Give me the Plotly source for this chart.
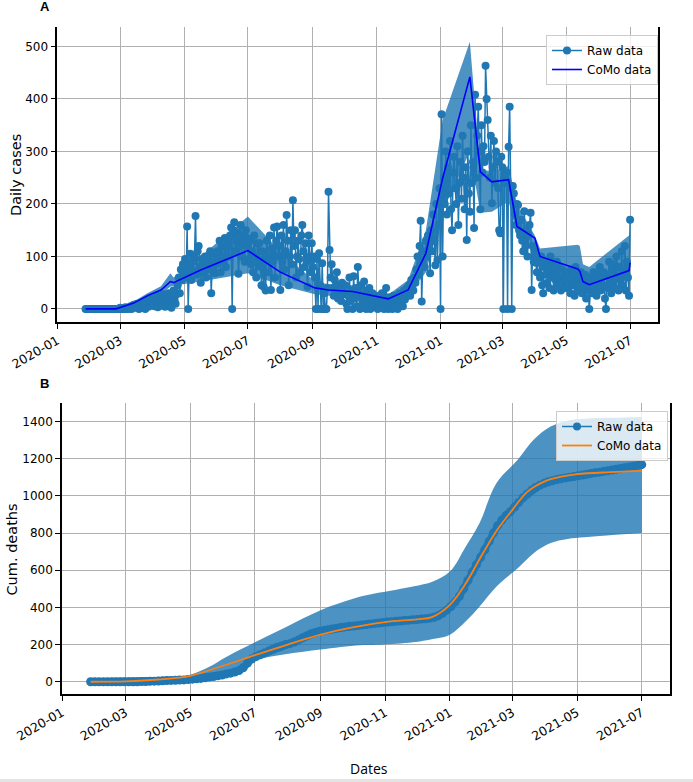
import plotly.graph_objects as go
import pandas as pd

# ---------------- Panel A: daily cases (raw, one value per day from 2020-01-28) ----------------
cases_2020_01 = [0, 0, 0, 0]
cases_2020_02 = [0, 0, 0, 0, 0, 0, 0, 0, 0, 0, 0, 0, 0, 0, 0, 0, 0, 0, 0, 0, 0, 0, 0, 0, 0, 0, 0, 0, 0]
cases_2020_03 = [2, 0, 0, 1, 0, 3, 0, 2, 0, 1, 5, 0, 3, 8, 2, 4, 10, 6, 0, 3, 12, 5, 8, 2, 0, 15, 10, 4, 18, 6, 12]
cases_2020_04 = [8, 20, 5, 14, 25, 3, 18, 10, 22, 6, 28, 15, 4, 20, 12, 30, 8, 24, 2, 16, 35, 18, 10, 28, 45, 60, 30, 75, 55, 85]
cases_2020_05 = [70, 95, 60, 157, 0, 85, 105, 55, 90, 72, 100, 177, 65, 110, 120, 80, 50, 95, 88, 70, 100, 60, 85, 98, 75, 110, 30, 90, 80, 105, 68]
cases_2020_06 = [85, 110, 95, 130, 70, 120, 100, 90, 135, 80, 115, 125, 100, 140, 155, 0, 150, 165, 110, 130, 145, 67, 120, 160, 100, 140, 125, 90, 150, 135]
cases_2020_07 = [120, 95, 130, 85, 110, 70, 140, 100, 60, 125, 90, 125, 80, 45, 110, 42, 95, 35, 130, 100, 70, 140, 36, 115, 90, 155, 60, 130, 157, 100, 120]
cases_2020_08 = [36, 140, 90, 160, 75, 110, 179, 130, 45, 100, 150, 85, 207, 120, 150, 60, 100, 130, 95, 70, 140, 160, 110, 80, 125, 90, 42, 140, 100, 70, 125]
cases_2020_09 = [80, 100, 60, 0, 95, 0, 106, 45, 0, 87, 0, 30, 0, 0, 40, 223, 112, 60, 85, 40, 25, 55, 30, 70, 20, 45, 35, 15, 50, 28]
cases_2020_10 = [30, 45, 10, 0, 25, 60, 15, 35, 0, 62, 20, 40, 5, 80, 30, 0, 45, 18, 10, 52, 25, 0, 35, 12, 40, 0, 20, 30, 8, 25, 15]
cases_2020_11 = [20, 0, 15, 25, 5, 30, 10, 0, 18, 40, 12, 0, 22, 8, 15, 0, 25, 10, 5, 20, 0, 15, 30, 10, 22, 5, 35, 18, 28, 40]
cases_2020_12 = [30, 45, 25, 55, 40, 35, 60, 50, 75, 100, 65, 120, 168, 14, 90, 110, 80, 130, 100, 140, 120, 68, 150, 110, 180, 130, 83, 200, 93, 160, 230]
cases_2021_01 = [0, 371, 100, 250, 200, 300, 180, 270, 220, 320, 190, 150, 260, 290, 230, 200, 310, 160, 240, 280, 210, 330, 250, 190, 270, 131, 300, 220, 185, 350, 240]
cases_2021_02 = [280, 154, 408, 250, 330, 385, 300, 190, 350, 260, 310, 280, 463, 400, 360, 290, 250, 330, 201, 270, 320, 240, 300, 280, 230, 150, 144, 290]
cases_2021_03 = [270, 0, 250, 240, 260, 0, 309, 385, 230, 0, 234, 220, 180, 160, 200, 198, 150, 140, 170, 130, 110, 186, 120, 150, 100, 140, 160, 183, 36, 120, 90]
cases_2021_04 = [110, 88, 70, 95, 88, 60, 100, 45, 30, 80, 65, 90, 50, 75, 40, 100, 60, 85, 35, 70, 55, 90, 45, 80, 60, 35, 75, 50, 65, 40]
cases_2021_05 = [55, 70, 40, 60, 30, 75, 45, 65, 25, 80, 50, 35, 60, 45, 70, 30, 55, 40, 65, 20, 50, 35, 0, 45, 60, 30, 70, 40, 55, 25, 65]
cases_2021_06 = [50, 80, 35, 60, 45, 70, 20, 0, 65, 40, 90, 55, 30, 75, 50, 85, 40, 100, 60, 35, 80, 55, 110, 45, 70, 120, 35, 90, 60, 25]
cases_2021_07 = [170]

# CoMo model for daily cases (with uncertainty band)
como_case_dates = ['2020-01-28', '2020-02-26', '2020-03-14', '2020-03-27', '2020-04-09', '2020-04-18',
                   '2020-04-21', '2020-05-17', '2020-07-01', '2020-08-01', '2020-09-03', '2020-09-16',
                   '2020-10-09', '2020-11-12', '2020-12-01', '2020-12-18', '2021-01-03', '2021-01-29',
                   '2021-02-08', '2021-02-19', '2021-03-07', '2021-03-15', '2021-04-01', '2021-04-06',
                   '2021-05-12', '2021-05-14', '2021-05-17', '2021-05-23', '2021-06-30', '2021-07-01']
como_case_vals = [0, 0, 11, 25, 36, 52, 50, 74, 111, 70, 40, 36, 33, 19, 36, 106, 249, 442,
                  261, 242, 246, 157, 135, 100, 76, 72, 52, 46, 73, 88]
como_case_lo = [0, 0, 8, 19, 29, 42, 44, 52, 68, 45, 28, 25, 22, 12, 25, 70, 185, 300,
                183, 185, 205, 140, 105, 80, 60, 58, 45, 38, 55, 58]
como_case_hi = [0, 0, 14, 30, 43, 68, 60, 100, 176, 110, 52, 47, 45, 27, 55, 150, 360, 509,
                265, 262, 272, 200, 140, 115, 122, 120, 85, 80, 140, 150]

# ---------------- Panel B: cumulative deaths (raw, one value every 4 days from 2020-01-28) ----------------
deaths_2020_q1 = [0, 0, 0, 0, 0, 0, 0, 0, 0, 0, 0, 0, 1, 1, 2, 3]
deaths_2020_q2 = [4, 5, 6, 7, 8, 9, 10, 12, 14, 16, 18, 21, 25, 28, 32, 36, 42, 46, 52, 60, 75, 100, 122]
deaths_2020_q3 = [135, 145, 155, 165, 175, 185, 192, 200, 205, 214, 225, 237, 248, 258, 265, 272,
                  276, 280, 284, 288, 292, 295, 298]
deaths_2020_q4 = [300, 302, 305, 308, 311, 313, 316, 319, 321, 323, 325, 327, 329, 331, 333,
                  335, 337, 339, 342, 347, 355, 368, 385]
deaths_2021_q1 = [405, 430, 460, 500, 545, 590, 630, 670, 710, 755, 800, 840, 870, 895, 915,
                  940, 965, 990, 1010, 1030, 1045, 1058, 1068]
deaths_2021_q2 = [1076, 1082, 1088, 1093, 1097, 1101, 1104, 1108, 1112, 1116, 1120, 1124, 1128,
                  1132, 1136, 1140, 1144, 1148, 1152, 1156, 1160, 1164, 1168]

como_death_dates = ['2020-01-28', '2020-03-01', '2020-04-01', '2020-05-01', '2020-06-01', '2020-07-01',
                    '2020-08-01', '2020-09-01', '2020-10-01', '2020-11-01', '2020-12-01', '2020-12-15',
                    '2021-01-01', '2021-01-15', '2021-02-01', '2021-02-15', '2021-03-01', '2021-03-15',
                    '2021-04-01', '2021-04-15', '2021-05-01', '2021-06-01', '2021-07-01']
como_death_vals = [0, 2, 12, 32, 86, 143, 200, 253, 292, 321, 336, 348, 414, 520, 690, 820, 925,
                   1022, 1080, 1102, 1117, 1128, 1135]

band_death_dates = ['2020-01-28', '2020-03-01', '2020-04-01', '2020-05-01', '2020-05-19', '2020-06-03',
                    '2020-07-02', '2020-07-31', '2020-09-01', '2020-10-08', '2020-10-27', '2020-11-27',
                    '2020-12-16', '2021-01-01', '2021-01-16', '2021-01-29', '2021-02-14', '2021-03-06',
                    '2021-03-21', '2021-04-06', '2021-04-22', '2021-05-08', '2021-06-01', '2021-07-01']
band_death_lo = [0, 0, 5, 18, 30, 45, 117, 149, 174, 197, 199, 212, 230, 253, 325, 405, 513, 611,
                 692, 746, 768, 777, 788, 800]
band_death_hi = [0, 3, 18, 38, 80, 130, 215, 296, 385, 457, 480, 513, 540, 593, 728, 854, 1069, 1194,
                 1302, 1373, 1405, 1415, 1420, 1425]

# ---------------- assemble ----------------
cases = (cases_2020_01 + cases_2020_02 + cases_2020_03 + cases_2020_04 + cases_2020_05 + cases_2020_06
         + cases_2020_07 + cases_2020_08 + cases_2020_09 + cases_2020_10 + cases_2020_11 + cases_2020_12
         + cases_2021_01 + cases_2021_02 + cases_2021_03 + cases_2021_04 + cases_2021_05 + cases_2021_06
         + cases_2021_07)
case_dates = pd.date_range('2020-01-28', periods=len(cases), freq='D')

deaths = deaths_2020_q1 + deaths_2020_q2 + deaths_2020_q3 + deaths_2020_q4 + deaths_2021_q1 + deaths_2021_q2
death_dates = pd.date_range('2020-01-28', periods=len(deaths), freq='4D')

W, H = 693, 782
BLUE = '#1f77b4'
BAND = 'rgba(31,119,180,0.8)'
FONT = 'DejaVu Sans'

fig = go.Figure()

# Panel A
fig.add_trace(go.Scatter(x=como_case_dates, y=como_case_lo, mode='lines', line=dict(width=0),
                         showlegend=False, hoverinfo='skip', xaxis='x', yaxis='y'))
fig.add_trace(go.Scatter(x=como_case_dates, y=como_case_hi, mode='lines', line=dict(width=0),
                         fill='tonexty', fillcolor=BAND, showlegend=False, hoverinfo='skip',
                         xaxis='x', yaxis='y'))
fig.add_trace(go.Scatter(x=case_dates, y=cases, mode='lines+markers', name='Raw data',
                         line=dict(color=BLUE, width=1.5), marker=dict(size=8, color=BLUE),
                         xaxis='x', yaxis='y', legend='legend'))
fig.add_trace(go.Scatter(x=como_case_dates, y=como_case_vals, mode='lines', name='CoMo data',
                         line=dict(color='#0000ff', width=1.6), xaxis='x', yaxis='y', legend='legend'))

# Panel B
fig.add_trace(go.Scatter(x=band_death_dates, y=band_death_lo, mode='lines', line=dict(width=0, shape='spline'),
                         showlegend=False, hoverinfo='skip', xaxis='x2', yaxis='y2'))
fig.add_trace(go.Scatter(x=band_death_dates, y=band_death_hi, mode='lines', line=dict(width=0, shape='spline'),
                         fill='tonexty', fillcolor=BAND, showlegend=False, hoverinfo='skip',
                         xaxis='x2', yaxis='y2'))
fig.add_trace(go.Scatter(x=death_dates, y=deaths, mode='lines+markers', name='Raw data',
                         line=dict(color=BLUE, width=7), marker=dict(size=9, color=BLUE),
                         xaxis='x2', yaxis='y2', showlegend=False))
# legend entry for the raw deaths (thin line + marker, as in the legend of the original)
fig.add_trace(go.Scatter(x=[None], y=[None], mode='lines+markers', name='Raw data',
                         line=dict(color=BLUE, width=1.5), marker=dict(size=8, color=BLUE),
                         xaxis='x2', yaxis='y2', legend='legend2'))
fig.add_trace(go.Scatter(x=como_death_dates, y=como_death_vals, mode='lines', name='CoMo data',
                         line=dict(color='#ff7f0e', width=1.8, shape='spline'),
                         xaxis='x2', yaxis='y2', legend='legend2'))


def px_x(p):
    return p / W


def px_y(p):
    return 1 - p / H


common_x = dict(type='date', range=['2020-01-01', '2021-07-27 16:00'], tick0='2020-01-01', dtick='M2',
                tickformat='%Y-%m', tickangle=-30, showgrid=True, gridcolor='#b0b0b0', gridwidth=1,
                showline=True, linecolor='black', linewidth=1.5, mirror=False, ticks='outside',
                ticklen=5, tickwidth=1.2, tickcolor='black', zeroline=False, automargin=False,
                tickfont=dict(family=FONT, size=12.5, color='black'))
common_y = dict(showgrid=True, gridcolor='#b0b0b0', gridwidth=1, showline=True, linecolor='black',
                linewidth=1.5, mirror=True, ticks='outside', ticklen=5, tickwidth=1.2, tickcolor='black',
                zeroline=False, automargin=False, tickfont=dict(family=FONT, size=12, color='black'))

legend_common = dict(bgcolor='rgba(255,255,255,0.8)', bordercolor='#cccccc', borderwidth=1,
                     font=dict(family=FONT, size=12, color='black'), xanchor='left', yanchor='top',
                     tracegroupgap=0, itemwidth=30, traceorder='normal')


def label(text, x, y, size, family=FONT, angle=0):
    return dict(text=text, x=px_x(x), y=px_y(y), xref='paper', yref='paper', showarrow=False,
                xanchor='center', yanchor='middle', textangle=angle,
                font=dict(family=family, size=size, color='black'))


fig.update_layout(
    width=W, height=H, margin=dict(l=0, r=0, t=0, b=0, autoexpand=False),
    paper_bgcolor='white', plot_bgcolor='white',
    xaxis=dict(common_x, domain=[px_x(57.3), px_x(658)], anchor='y'),
    yaxis=dict(common_y, domain=[px_y(322), px_y(27)], range=[-25, 537], dtick=100, anchor='x'),
    xaxis2=dict(common_x, domain=[px_x(62), px_x(670)], anchor='y2'),
    yaxis2=dict(common_y, domain=[px_y(694), px_y(403)], range=[-66, 1500], dtick=200, anchor='x2'),
    legend=dict(legend_common, x=px_x(546), y=px_y(35)),
    legend2=dict(legend_common, x=px_x(556), y=px_y(411)),
    showlegend=True,
    annotations=[
        label('<b>A</b>', 45, 7, 13, family='Liberation Sans'),
        label('<b>B</b>', 45, 383, 13, family='Liberation Sans'),
        label('Daily cases', 16, 175, 14.5, angle=-90),
        label('Cum. deaths', 11.5, 550, 14.5, angle=-90),
        label('Dates', 369, 768, 14, family='Open Sans'),
    ],
    shapes=[
        dict(type='rect', xref='paper', yref='paper', x0=0, x1=1, y0=0, y1=px_y(779),
             fillcolor='#e4e4e4', line=dict(width=0)),
    ],
)

fig.write_html('out.html', config={'displayModeBar': False},
               post_script="document.body.style.margin='0';")
